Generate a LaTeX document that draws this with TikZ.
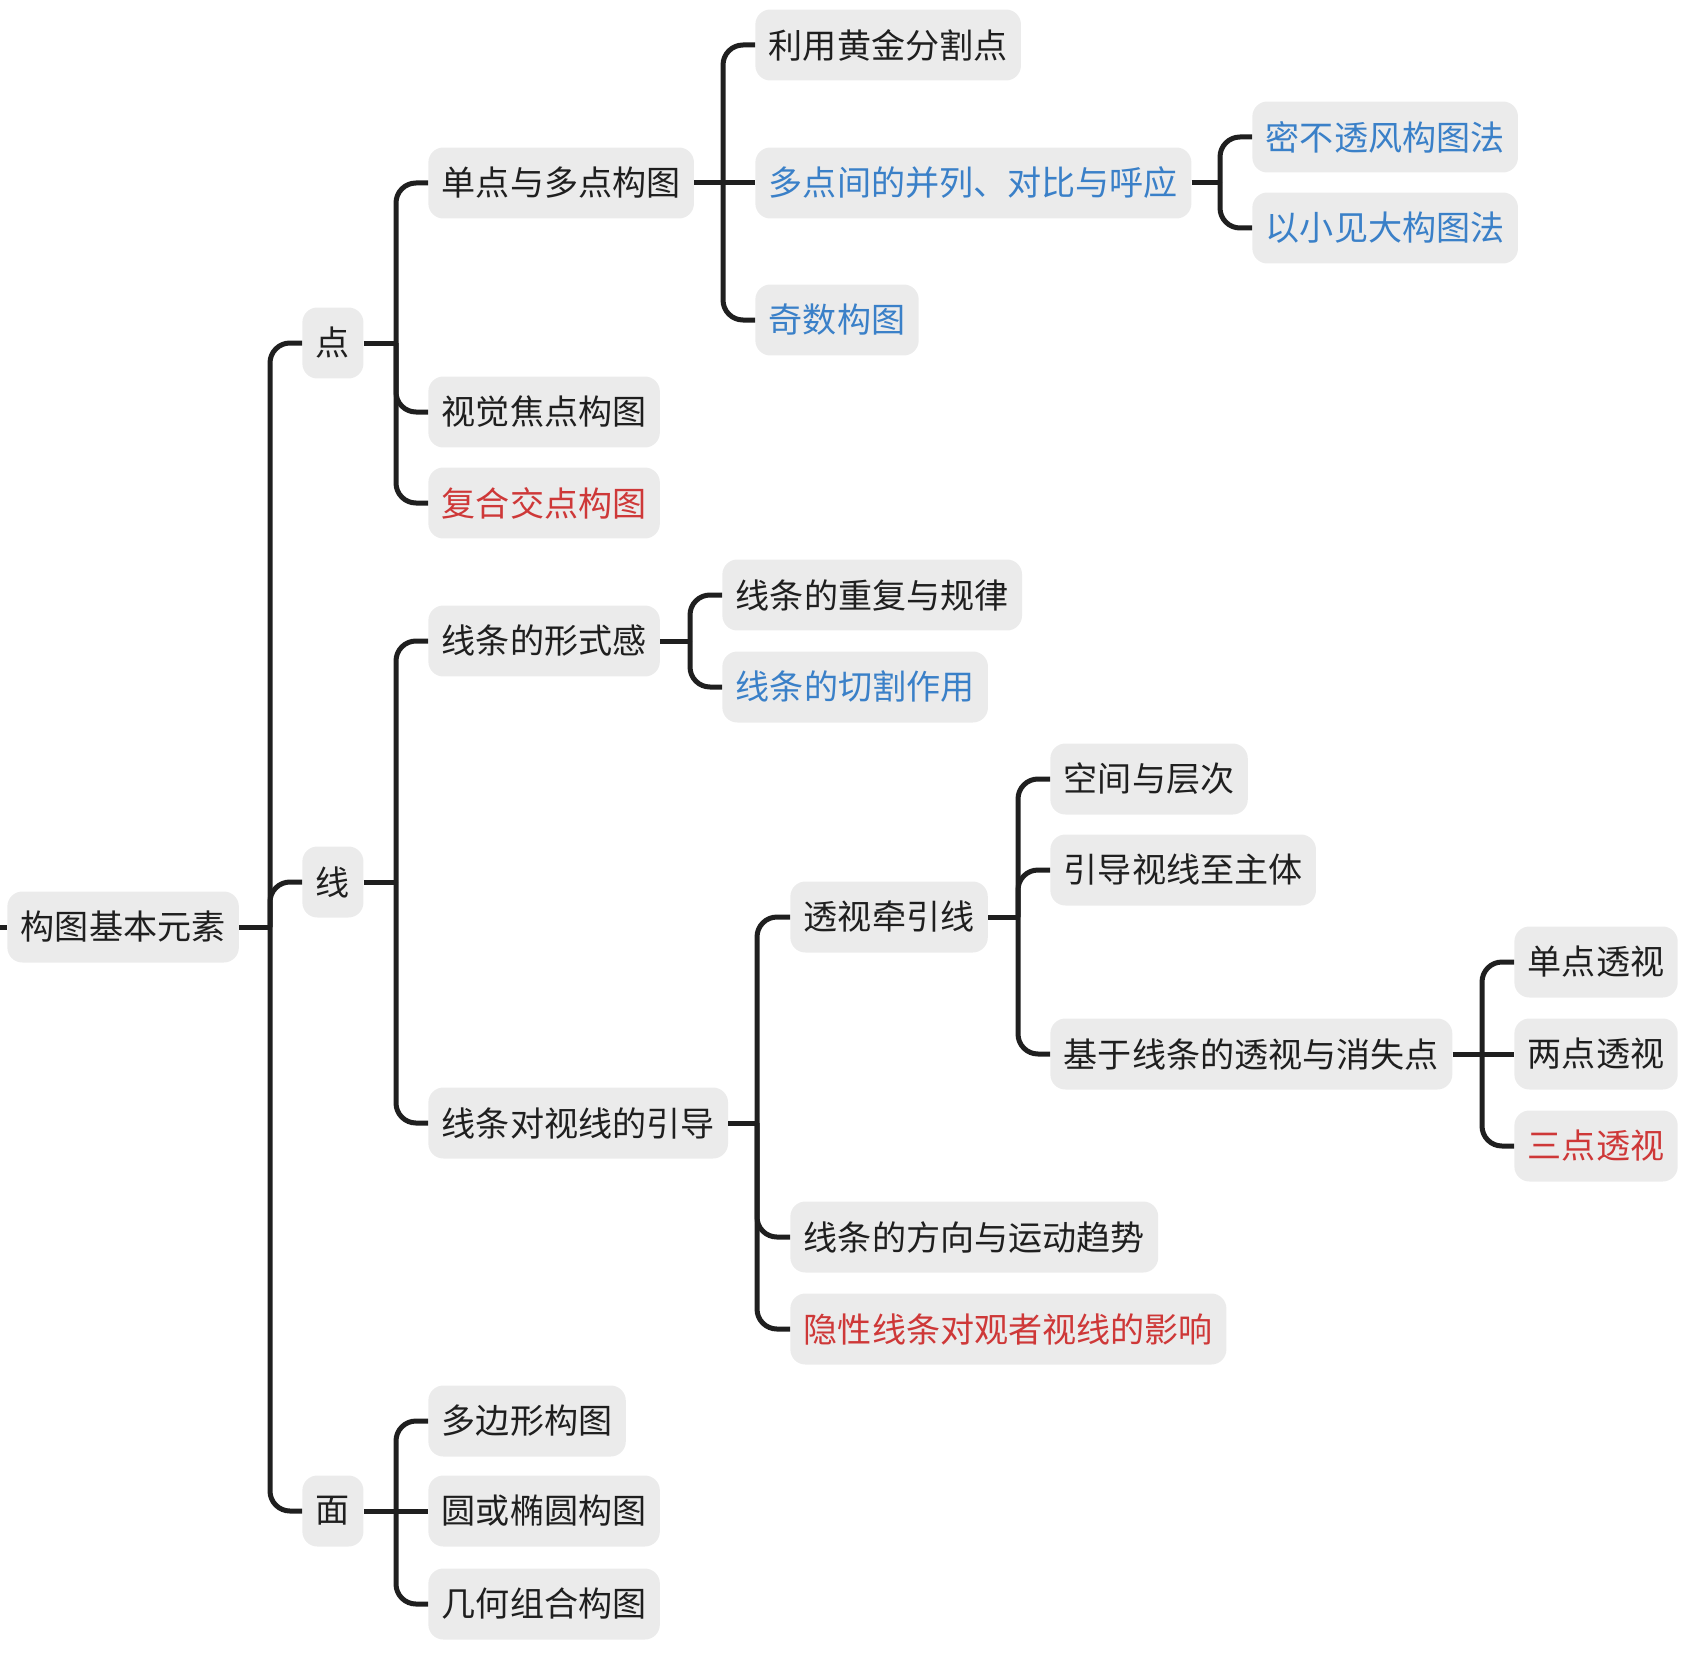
\documentclass[tikz,border=0pt]{standalone}
\usepackage{fontspec}
\setmainfont{Noto Sans CJK SC}

\definecolor{boxgray}{HTML}{EBEBEB}
\definecolor{linkblue}{HTML}{3A80C8}
\definecolor{hotred}{HTML}{CE3838}
\definecolor{inkblack}{HTML}{1F1F1F}

\tikzset{
  box/.style={anchor=west, fill=boxgray, rounded corners=0.3cm,
    inner xsep=0.27cm, inner ysep=0pt, minimum height=1.42cm,
    text=inkblack, font=\fontsize{19.4pt}{23pt}\selectfont},
  bluetxt/.style={text=linkblue},
  redtxt/.style={text=hotred},
  link/.style={draw=inkblack, line width=0.1cm, rounded corners=0.4cm}
}

\begin{document}
\begin{tikzpicture}[x=0.02cm, y=-0.02cm]
\useasboundingbox (0,0) rectangle (1692,1652);

% root and first level
\coordinate (in) at (0,927);
\node[box] (root) at (7,927) {构图基本元素};
\node[box] (dian) at (302,343) {点};
\node[box] (xian) at (302,882) {线};
\node[box] (mian) at (302,1511) {面};

% dian
\node[box] (dandian) at (428,183) {单点与多点构图};
\node[box] (shijue) at (428,412) {视觉焦点构图};
\node[box, redtxt] (fuhe) at (428,503) {复合交点构图};
\node[box] (huangjin) at (755,45) {利用黄金分割点};
\node[box, bluetxt] (duodian) at (755,183) {多点间的并列、对比与呼应};
\node[box, bluetxt] (jishu) at (755,320) {奇数构图};
\node[box, bluetxt] (mibu) at (1252,137) {密不透风构图法};
\node[box, bluetxt] (yixiao) at (1252,228) {以小见大构图法};

% xian
\node[box] (xingshi) at (428,641) {线条的形式感};
\node[box] (yindao) at (428,1123) {线条对视线的引导};
\node[box] (chongfu) at (722,595) {线条的重复与规律};
\node[box, bluetxt] (qiege) at (722,687) {线条的切割作用};
\node[box] (toushi) at (790,917) {透视牵引线};
\node[box] (fangxiang) at (790,1237) {线条的方向与运动趋势};
\node[box, redtxt] (yinxing) at (790,1329) {隐性线条对观者视线的影响};
\node[box] (kongjian) at (1050,779) {空间与层次};
\node[box] (zhuti) at (1050,870) {引导视线至主体};
\node[box] (jiyu) at (1050,1054) {基于线条的透视与消失点};
\node[box] (dan) at (1514,962) {单点透视};
\node[box] (liang) at (1514,1054) {两点透视};
\node[box, redtxt] (san) at (1514,1146) {三点透视};

% mian
\node[box] (duobian) at (428,1421) {多边形构图};
\node[box] (yuan) at (428,1511) {圆或椭圆构图};
\node[box] (jihe) at (428,1604) {几何组合构图};

% junctions
\coordinate (j0) at (270,927);
\coordinate (j1) at (396,343);
\coordinate (j2) at (396,882);
\coordinate (j3) at (396,1511);
\coordinate (j4) at (723,183);
\coordinate (j5) at (1220,183);
\coordinate (j6) at (690,641);
\coordinate (j7) at (757,1123);
\coordinate (j8) at (1018,917);
\coordinate (j9) at (1482,1054);

% connectors
\draw[link] (in) -- (root);
\draw[link] (root) -- (j0);
\draw[link] (j0) |- (dian.west);
\draw[link] (j0) |- (xian.west);
\draw[link] (j0) |- (mian.west);

\draw[link] (dian) -- (j1);
\draw[link] (j1) |- (dandian.west);
\draw[link] (j1) |- (shijue.west);
\draw[link] (j1) |- (fuhe.west);

\draw[link] (dandian) -- (j4);
\draw[link] (j4) |- (huangjin.west);
\draw[link] (j4) -- (duodian);
\draw[link] (j4) |- (jishu.west);

\draw[link] (duodian) -- (j5);
\draw[link] (j5) |- (mibu.west);
\draw[link] (j5) |- (yixiao.west);

\draw[link] (xian) -- (j2);
\draw[link] (j2) |- (xingshi.west);
\draw[link] (j2) |- (yindao.west);

\draw[link] (xingshi) -- (j6);
\draw[link] (j6) |- (chongfu.west);
\draw[link] (j6) |- (qiege.west);

\draw[link] (yindao) -- (j7);
\draw[link] (j7) |- (toushi.west);
\draw[link] (j7) |- (fangxiang.west);
\draw[link] (j7) |- (yinxing.west);

\draw[link] (toushi) -- (j8);
\draw[link] (j8) |- (kongjian.west);
\draw[link] (j8) |- (zhuti.west);
\draw[link] (j8) |- (jiyu.west);

\draw[link] (jiyu) -- (j9);
\draw[link] (j9) |- (dan.west);
\draw[link] (j9) -- (liang);
\draw[link] (j9) |- (san.west);

\draw[link] (mian) -- (j3);
\draw[link] (j3) |- (duobian.west);
\draw[link] (j3) -- (yuan);
\draw[link] (j3) |- (jihe.west);

\end{tikzpicture}
\end{document}
